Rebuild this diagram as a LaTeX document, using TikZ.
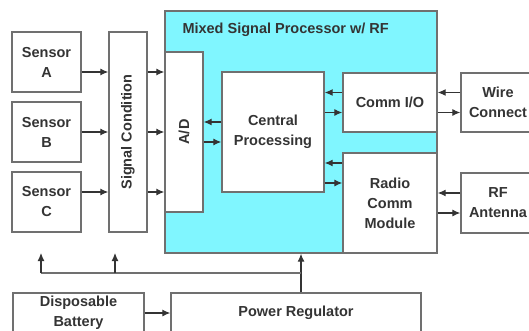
\documentclass[tikz,border=0pt]{standalone}
\usepackage{fontspec}
\setsansfont{Liberation Sans}
\usetikzlibrary{arrows.meta,calc}
\definecolor{mspcyan}{RGB}{128,246,255}
\definecolor{edgegray}{RGB}{112,112,112}
\definecolor{inkgray}{RGB}{52,52,52}
\tikzset{
  box/.style    ={draw=edgegray,line width=1.4pt,fill=white,align=center,
                  font=\sffamily\bfseries\fontsize{14.5}{20}\selectfont,
                  text=inkgray,inner sep=0pt},
  chip/.style   ={box,fill=mspcyan},
  vbox/.style   ={box,rotate=90},
  flow/.style   ={-{Latex[length=8pt,width=7pt]},line width=1.1pt,draw=inkgray},
  wire/.style   ={line width=1.1pt,draw=edgegray},
  lbl/.style    ={font=\sffamily\bfseries\fontsize{14.5}{18}\selectfont,
                  text=inkgray,inner sep=0pt},
}
\begin{document}
\begin{tikzpicture}[x=1pt,y=-1pt]
  \useasboundingbox (0,0) rectangle (529,331);

  % sensors and signal conditioning
  \node[box,minimum width=69pt,minimum height=60pt] (sensA) at (46.5,62)  {Sensor\\A};
  \node[box,minimum width=69pt,minimum height=60pt] (sensB) at (46.5,132) {Sensor\\B};
  \node[box,minimum width=69pt,minimum height=60pt] (sensC) at (46.5,202) {Sensor\\C};
  \node[vbox,minimum width=200pt,minimum height=38pt] (sigcond) at (128,132) {Signal Condition};

  % mixed signal processor
  \node[chip,minimum width=272pt,minimum height=242pt] (msp) at (301,132) {};
  \node[lbl,anchor=west] (msptitle) at ([xshift=18pt,yshift=-19pt]msp.north west)
    {Mixed Signal Processor w/ RF};
  \node[vbox,minimum width=160pt,minimum height=38pt] (adc) at (184,132) {A/D};
  \node[box,minimum width=102pt,minimum height=120pt] (cpu) at (273,132) {Central\\Processing};
  \node[box,minimum width=94pt,minimum height=59pt] (commio) at (390,102.5) {Comm I/O};
  \node[box,minimum width=94pt,minimum height=100pt] (radio) at (390,203) {Radio\\Comm\\Module};

  % outside links
  \node[box,minimum width=74pt,minimum height=59pt] (wirecon) at (498,102.5) {Wire\\Connect};
  \node[box,minimum width=74pt,minimum height=60pt] (rfant) at (498,203) {RF\\Antenna};

  % power
  \node[box,minimum width=131pt,minimum height=40pt] (battery) at (78.5,313) {Disposable\\Battery};
  \node[box,minimum width=250pt,minimum height=40pt] (powreg) at (296,313) {Power Regulator};

  % sensor rows (rotated boxes: north = west side, south = east side)
  \foreach \s/\dy in {A/-10,B/0,C/10}{
    \coordinate (row\s) at ([yshift=\dy pt]sens\s.east);
    \draw[flow] (row\s) -- (row\s -| sigcond.north);
    \draw[flow] (row\s -| sigcond.south) -- (row\s -| adc.north);
  }

  % A/D <-> central processing
  \draw[flow] ([yshift=10pt]cpu.west) -- ([yshift=10pt]cpu.west -| adc.south);
  \draw[flow] ([yshift=-10pt]cpu.west -| adc.south) -- ([yshift=-10pt]cpu.west);

  % central processing <-> comm i/o
  \draw[flow] ([yshift=10pt]commio.west) -- ([yshift=10pt]commio.west -| cpu.east);
  \draw[flow] ([yshift=-10pt]commio.west -| cpu.east) -- ([yshift=-10pt]commio.west);

  % central processing <-> radio
  \draw[flow] ([yshift=-31pt]cpu.east -| radio.west) -- ([yshift=-31pt]cpu.east);
  \draw[flow] ([yshift=-51pt]cpu.east) -- ([yshift=-51pt]cpu.east -| radio.west);

  % comm i/o <-> wire, radio <-> antenna
  \draw[flow] ([yshift=10pt]wirecon.west) -- ([yshift=10pt]wirecon.west -| commio.east);
  \draw[flow] ([yshift=-10pt]wirecon.west -| commio.east) -- ([yshift=-10pt]wirecon.west);
  \draw[flow] ([yshift=10pt]rfant.west) -- ([yshift=10pt]rfant.west -| radio.east);
  \draw[flow] ([yshift=-10pt]rfant.west -| radio.east) -- ([yshift=-10pt]rfant.west);

  % power distribution
  \draw[flow] (battery) -- (powreg);
  \coordinate (tap)  at (301,273);
  \coordinate (pwrA) at (41,253);
  \coordinate (pwrS) at (115,253);
  \draw[flow] (powreg.north -| msp.south) -- (msp.south);
  \draw[wire] (tap) -- (tap -| pwrA);
  \draw[flow] (tap -| pwrA) -- (pwrA);
  \draw[flow] (tap -| pwrS) -- (pwrS);
\end{tikzpicture}
\end{document}
